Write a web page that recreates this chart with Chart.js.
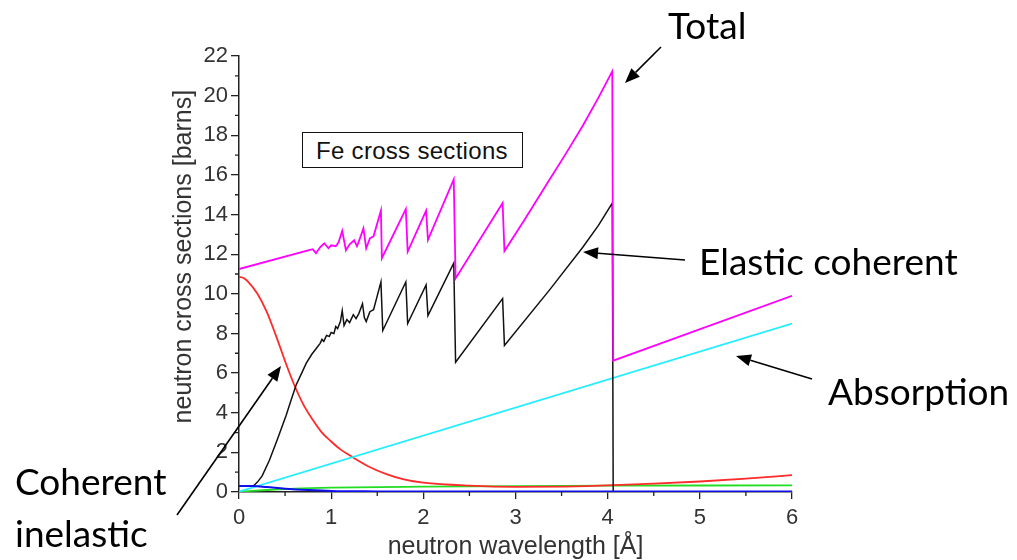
<!DOCTYPE html>
<html>
<head>
<meta charset="utf-8">
<script src="https://cdn.jsdelivr.net/npm/chart.js@4.4.1/dist/chart.umd.min.js"></script>
<style>
  html, body { margin: 0; padding: 0; background: #fff; }
  #wrap { position: relative; width: 1017px; height: 560px; overflow: hidden; }
  #chart { position: absolute; left: 0; top: 0; }
  .note { position: absolute; font-family: Lato, "Open Sans", sans-serif; font-size: 37px; line-height: 37px; color: #000; white-space: nowrap; }
  #fe { position: absolute; left: 302px; top: 132px; width: 206px; height: 34px; border: 1.5px solid #111;
        font-family: "Liberation Sans", Arial, sans-serif; font-size: 24px; line-height: 35px; padding-left: 13px;
        box-sizing: content-box; letter-spacing: 0.3px; color: #111; background: #fff; }
</style>
</head>
<body>
<div id="wrap">
  <canvas id="chart" width="1017" height="560"></canvas>
  <div id="fe">Fe cross sections</div>
  <div class="note" style="left:668px; top:6px;">Total</div>
  <div class="note" style="left:699px; top:242px;">Elastic coherent</div>
  <div class="note" style="left:828px; top:372px;">Absorption</div>
  <div class="note" style="left:15px; top:462px;">Coherent</div>
  <div class="note" style="left:15px; top:514px;">inelastic</div>
</div>
<script>
// neutron wavelength [Å] vs cross section [barns]
const totalX = [0, 0.76, 0.8, 0.835, 0.88, 0.925, 0.97, 1.0, 1.05, 1.08, 1.12, 1.16, 1.2, 1.25, 1.28, 1.32, 1.35, 1.38, 1.42, 1.46,
  1.54, 1.55, 1.81, 1.83, 2.03, 2.05, 2.33, 2.35, 2.86, 2.88, 3.1, 3.37, 3.55, 3.73, 3.9, 4.05, 4.06, 6];
const totalY = [11.25, 12.2, 12.25, 12.05, 12.35, 12.55, 12.3, 12.45, 12.4, 12.6, 13.18, 12.2, 12.5, 12.7, 12.4, 12.9, 13.3, 12.3, 12.8, 12.9,
  14.2, 11.8, 14.28, 12.13, 14.2, 12.72, 15.77, 10.78, 14.58, 12.16, 13.75, 15.77, 17.1, 18.48, 19.9, 21.23, 6.63, 9.9];

const elasticX = [0.15, 0.2, 0.25, 0.33, 0.42, 0.51, 0.57, 0.62, 0.68, 0.73, 0.79, 0.84, 0.88, 0.9, 0.92, 0.95, 0.98, 1.0, 1.03,
  1.05, 1.07, 1.1, 1.12, 1.14, 1.17, 1.2, 1.24, 1.27, 1.3, 1.34, 1.36, 1.38, 1.42, 1.46,
  1.54, 1.56, 1.81, 1.83, 2.03, 2.05, 2.33, 2.35, 2.86, 2.88, 3.37, 3.73, 3.9, 4.05, 4.06, 6];
const elasticY = [0.28, 0.5, 0.8, 1.6, 2.7, 3.85, 4.7, 5.4, 6.0, 6.5, 6.95, 7.25, 7.5, 7.7, 7.6, 7.9, 7.85, 8.05, 8.0,
  8.35, 8.25, 8.6, 9.15, 8.4, 8.7, 8.55, 8.95, 8.75, 9.0, 9.5, 8.8, 8.6, 9.1, 9.2,
  10.6, 8.15, 10.6, 8.5, 10.45, 8.9, 11.55, 6.55, 9.76, 7.39, 10.2, 12.35, 13.45, 14.58, 0, 0];

const inelasticX = [0, 0.05, 0.1, 0.2, 0.3, 0.4, 0.5, 0.6, 0.7, 0.8, 0.9, 1.0, 1.1, 1.2, 1.4, 1.6, 1.8, 2.0, 2.5, 3.0, 3.5, 4.0, 4.5, 5.0, 5.5, 6.0];
const inelasticY = [10.86, 10.8, 10.6, 10.0, 9.1, 7.9, 6.6, 5.4, 4.4, 3.65, 3.0, 2.55, 2.15, 1.85, 1.3, 0.9, 0.62, 0.47, 0.32, 0.26, 0.27, 0.33, 0.42, 0.53, 0.68, 0.85];

const absorptionX = [0, 6];
const absorptionY = [0.02, 8.5];

const greenX = [0, 0.3, 0.6, 1.0, 2.0, 3.0, 4.0, 6.0];
const greenY = [0.02, 0.1, 0.17, 0.22, 0.27, 0.3, 0.32, 0.33];

const blueX = [0, 0.15, 0.3, 0.5, 0.75, 1.0, 1.5, 2.0, 6.0];
const blueY = [0.3, 0.3, 0.25, 0.17, 0.1, 0.05, 0.03, 0.02, 0.02];

const xTicks = [0, 1, 2, 3, 4, 5, 6];
const yTicks = [0, 2, 4, 6, 8, 10, 12, 14, 16, 18, 20, 22];
const xMinor = [0.5, 1.5, 2.5, 3.5, 4.5, 5.5];
const yMinor = [1, 3, 5, 7, 9, 11, 13, 15, 17, 19, 21];

function pts(xs, ys) {
  return xs.map((x, i) => ({ x: x, y: ys[i] }));
}

function line(data, color, width, smooth) {
  const ds = { data: data, borderColor: color, borderWidth: width, pointRadius: 0, tension: 0, fill: false };
  if (smooth) ds.cubicInterpolationMode = 'monotone';
  return ds;
}

// minor ticks (Chart.js has none of its own)
const minorTicks = {
  id: 'minorTicks',
  afterDraw(chart) {
    const ctx = chart.ctx;
    const xs = chart.scales.x, ys = chart.scales.y;
    const area = chart.chartArea;
    ctx.save();
    ctx.strokeStyle = '#222';
    ctx.lineWidth = 1.3;
    ctx.beginPath();
    xMinor.forEach(v => {
      const px = xs.getPixelForValue(v);
      ctx.moveTo(px, area.bottom);
      ctx.lineTo(px, area.bottom + 4);
    });
    yMinor.forEach(v => {
      const py = ys.getPixelForValue(v);
      ctx.moveTo(area.left, py);
      ctx.lineTo(area.left - 4, py);
    });
    ctx.stroke();
    ctx.restore();
  }
};

// the call-out arrows
function arrow(ctx, x1, y1, x2, y2) {
  const a = Math.atan2(y2 - y1, x2 - x1);
  const len = 15, half = 6;
  const bx = x2 - len * Math.cos(a), by = y2 - len * Math.sin(a);
  ctx.beginPath();
  ctx.moveTo(x1, y1);
  ctx.lineTo(bx, by);
  ctx.stroke();
  ctx.beginPath();
  ctx.moveTo(x2, y2);
  ctx.lineTo(bx + half * Math.sin(a), by - half * Math.cos(a));
  ctx.lineTo(bx - half * Math.sin(a), by + half * Math.cos(a));
  ctx.closePath();
  ctx.fill();
}

const arrows = {
  id: 'arrows',
  afterDraw(chart) {
    const ctx = chart.ctx;
    ctx.save();
    ctx.strokeStyle = '#000';
    ctx.fillStyle = '#000';
    ctx.lineWidth = 1.6;
    arrow(ctx, 661, 47, 625, 83);
    arrow(ctx, 685, 260, 583, 252);
    arrow(ctx, 812, 379, 736, 356);
    arrow(ctx, 177, 515, 281, 366);
    ctx.restore();
  }
};

const tickFont = { family: 'Liberation Sans', size: 22 };
const titleFont = { family: 'Liberation Sans', size: 25, lineHeight: 1 };

new Chart(document.getElementById('chart'), {
  type: 'line',
  data: {
    datasets: [
      line(pts(totalX, totalY), '#ff00ff', 1.8),
      line(pts(blueX, blueY), '#1010ee', 2, true),
      line(pts(elasticX, elasticY), '#111111', 1.5),
      line(pts(absorptionX, absorptionY), '#22eeff', 1.8),
      line(pts(inelasticX, inelasticY), '#ff2a2a', 1.8, true),
      line(pts(greenX, greenY), '#22dd22', 1.8, true)
    ]
  },
  options: {
    responsive: false,
    animation: false,
    devicePixelRatio: 1,
    layout: { padding: { left: 172, right: 225, top: 56, bottom: 0 } },
    plugins: { legend: { display: false }, tooltip: { enabled: false } },
    scales: {
      x: {
        type: 'linear',
        min: 0,
        max: 6,
        afterBuildTicks: s => { s.ticks = xTicks.map(v => ({ value: v })); },
        afterFit: s => { s.height = 68; },
        ticks: { font: tickFont, color: '#333', padding: 6, maxRotation: 0 },
        grid: { drawOnChartArea: false, tickLength: 7, color: '#222', lineWidth: 1.3 },
        border: { color: '#222', width: 1.5 },
        title: { display: true, text: 'neutron wavelength [Å]', color: '#333', font: titleFont, padding: 0 }
      },
      y: {
        type: 'linear',
        min: 0,
        max: 22,
        afterBuildTicks: s => { s.ticks = yTicks.map(v => ({ value: v })); },
        afterFit: s => { s.width = 67; },
        ticks: { font: tickFont, color: '#333', padding: 3 },
        grid: { drawOnChartArea: false, tickLength: 8, color: '#222', lineWidth: 1.3 },
        border: { color: '#222', width: 1.5 },
        // leading spaces push the rotated title up a little, as in the original
        title: { display: true, text: '     neutron cross sections [barns]', color: '#333', font: titleFont, padding: 0 }
      }
    }
  },
  plugins: [minorTicks, arrows]
});
</script>
</body>
</html>
